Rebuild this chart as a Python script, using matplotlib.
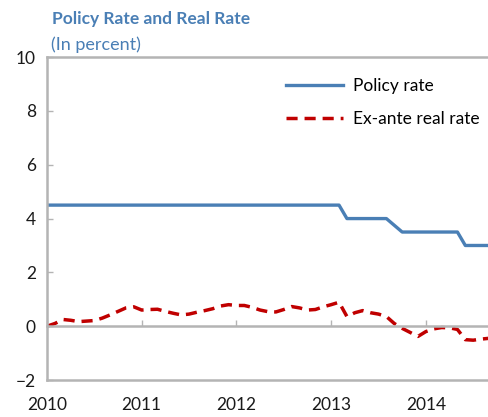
import numpy as np
import matplotlib.pyplot as plt

plt.rcParams['font.family'] = ['Lato', 'DejaVu Sans']

# monthly data, Jan 2010 - Sep 2014
start_year = 2010
policy_rate = [4.5] * 38 + [4.0] * 6 + [3.75] + [3.5] * 8 + [3.0] * 4
real_rate = [0.0, 0.1, 0.25, 0.22, 0.17, 0.19, 0.21, 0.3, 0.42, 0.55,
             0.68, 0.72, 0.6, 0.62, 0.63, 0.55, 0.48, 0.42, 0.45, 0.52,
             0.58, 0.65, 0.75, 0.8, 0.77, 0.77, 0.7, 0.6, 0.54, 0.53,
             0.62, 0.73, 0.68, 0.6, 0.62, 0.72, 0.8, 0.89, 0.36, 0.5,
             0.58, 0.5, 0.45, 0.36, 0.1, -0.08, -0.23, -0.38, -0.2, -0.1,
             -0.05, -0.06, -0.12, -0.5, -0.52, -0.48, -0.45]
years = [2010, 2011, 2012, 2013, 2014]

t = start_year + np.arange(len(real_rate)) / 12

blue = '#4a7fb5'
red = '#c00000'
grey = '#b4b4b4'

fig = plt.figure(figsize=(4.89, 4.17), dpi=100)
ax = fig.add_axes([0.0961, 0.0887, 0.9039, 0.7743])

ax.plot(t, policy_rate, color=blue, lw=2.4, label='Policy rate')
ax.plot(t, real_rate, color=red, lw=2.5, ls=(0, (3.2, 2)), label='Ex-ante real rate')

ax.set_xlim(2010, t[-1])
ax.set_ylim(-2, 10)
ax.set_yticks(range(-2, 11, 2))
ax.set_xticks(years)

# x axis sits on zero, frame line at -2
ax.spines['bottom'].set_position(('data', 0))
ax.axhline(-2, color=grey, lw=1.8, clip_on=False)
ax.spines['right'].set_visible(False)
for s in ['left', 'top', 'bottom']:
    ax.spines[s].set_color(grey)
    ax.spines[s].set_linewidth(1.8)

ax.tick_params(axis='x', direction='in', length=4, color=grey, width=1,
               pad=51, labelsize=12.5, labelcolor='#1a1a1a')
ax.tick_params(axis='y', direction='in', length=4, color=grey, width=1,
               pad=8, labelsize=12.5, labelcolor='#1a1a1a')

ax.legend(loc='upper right', frameon=False, fontsize=12.5, handlelength=3.3,
          handletextpad=0.6, bbox_to_anchor=(1.015, 0.985), labelspacing=1.0)

fig.text(0.106, 0.955, 'Policy Rate and Real Rate', color=blue,
         fontsize=12.5, fontweight='bold', va='center')
fig.text(0.104, 0.893, '(In percent)', color=blue, fontsize=13, va='center')

fig.savefig('out.png', dpi=100)
